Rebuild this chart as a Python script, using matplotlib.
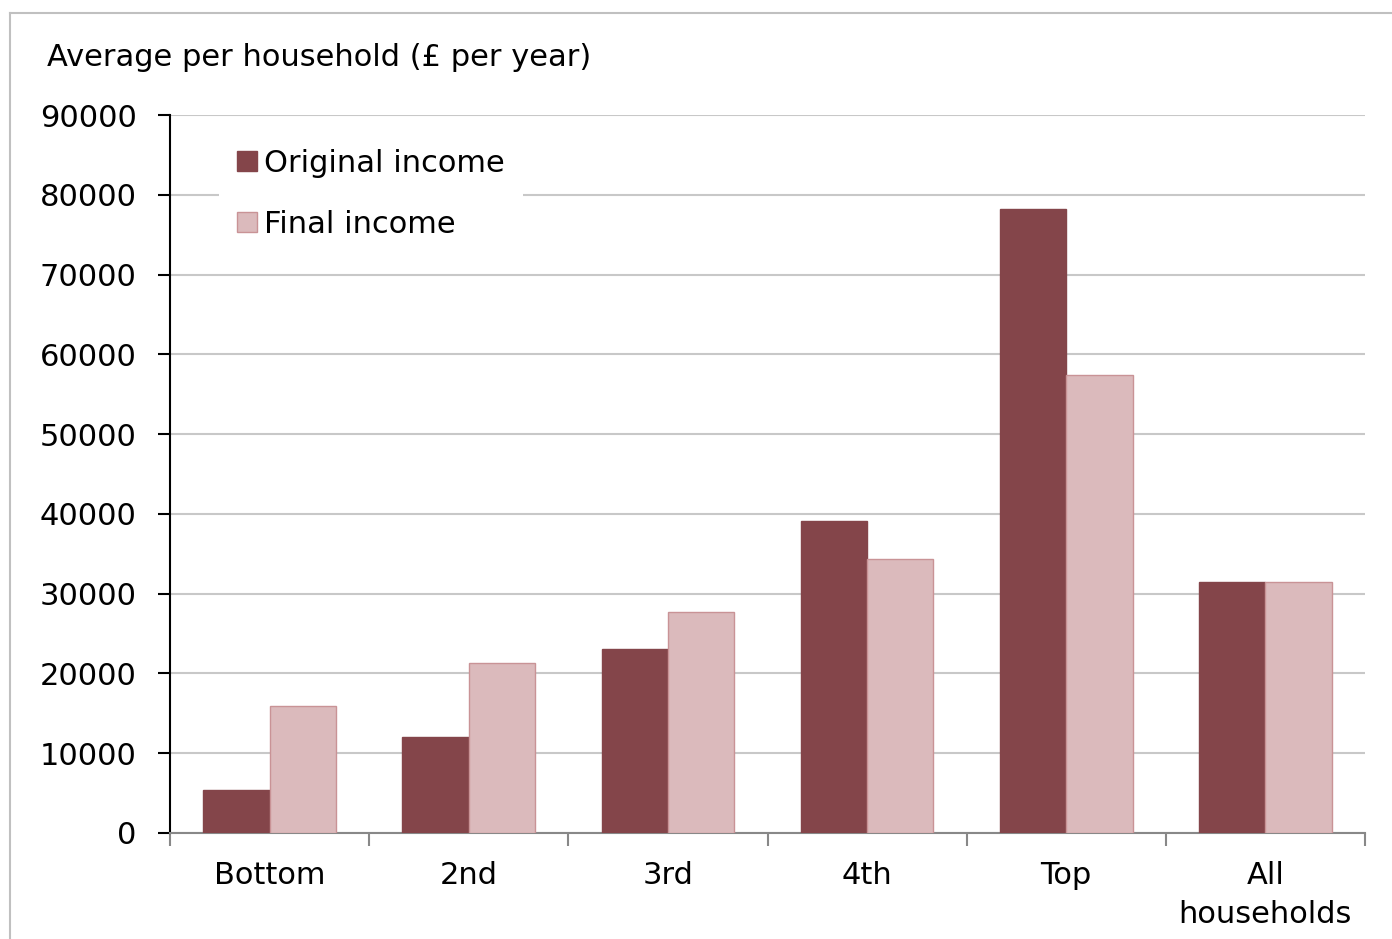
import numpy as np
import matplotlib.pyplot as plt
from matplotlib.lines import Line2D

# Dados do gráfico
categories = ['Bottom', '2nd', '3rd', '4th', 'Top', 'All\nhouseholds']
original_income = [5400, 12000, 23100, 39100, 78200, 31400]
final_income = [15900, 21300, 27700, 34300, 57400, 31400]
y_ticks = [0, 10000, 20000, 30000, 40000, 50000, 60000, 70000, 80000, 90000]

dark = '#84454a'
light = '#dbbabc'
light_edge = '#c99396'
grid_grey = '#c8c8c8'
fs = 22

plt.rcParams['font.family'] = ['DejaVu Sans']

fig = plt.figure(figsize=(13.92, 9.39), dpi=100)
ax = fig.add_axes([170 / 1392, 1 - 833 / 939, 1195 / 1392, 718 / 939])

x = np.arange(len(categories))
w = 1 / 3
ax.bar(x - w / 2, original_income, width=w, color=dark, edgecolor=dark,
       linewidth=1, label='Original income', zorder=3)
ax.bar(x + w / 2, final_income, width=w, color=light, edgecolor=light_edge,
       linewidth=1, label='Final income', zorder=3)

ax.set_xlim(-0.5, len(categories) - 0.5)
ax.set_ylim(0, 90000)
ax.set_yticks(y_ticks)
ax.set_yticklabels([str(v) for v in y_ticks], fontsize=fs)
ax.yaxis.grid(True, color=grid_grey, linewidth=1.5, zorder=0)
ax.set_axisbelow(True)

# Ticks do eixo x entre categorias
ax.set_xticks(np.arange(-0.5, len(categories), 1.0))
ax.set_xticklabels([])
ax.set_xticks(x, minor=True)
ax.set_xticklabels(categories, minor=True, fontsize=fs, linespacing=1.45)
ax.tick_params(axis='x', which='minor', length=0, pad=20)
ax.tick_params(axis='x', which='major', length=9, width=1.5, color='#888888')
ax.tick_params(axis='y', length=9, width=1.5, pad=15)

for side in ['top', 'right']:
    ax.spines[side].set_visible(False)
ax.spines['left'].set_linewidth(1.5)
ax.spines['bottom'].set_color('#888888')
ax.spines['bottom'].set_linewidth(1.5)

fig.text(47 / 1392, 1 - 58 / 939, 'Average per household (£ per year)',
         fontsize=fs, va='center', ha='left')

leg = ax.legend(loc='center left', bbox_to_anchor=(0.041, 0.89), frameon=True,
                fontsize=fs, handlelength=0.65, handleheight=0.65,
                handletextpad=0.23, labelspacing=1.05, borderpad=0.6,
                borderaxespad=0)
leg.get_frame().set_edgecolor('none')
leg.get_frame().set_facecolor('white')
leg.get_frame().set_alpha(1)

# Moldura externa (topo e esquerda)
fig.add_artist(Line2D([10 / 1392, 1], [1 - 13 / 939, 1 - 13 / 939],
                      color='#c0c0c0', linewidth=1.5))
fig.add_artist(Line2D([10 / 1392, 10 / 1392], [0, 1 - 13 / 939],
                      color='#c0c0c0', linewidth=1.5))

fig.savefig('out.png', dpi=100)
